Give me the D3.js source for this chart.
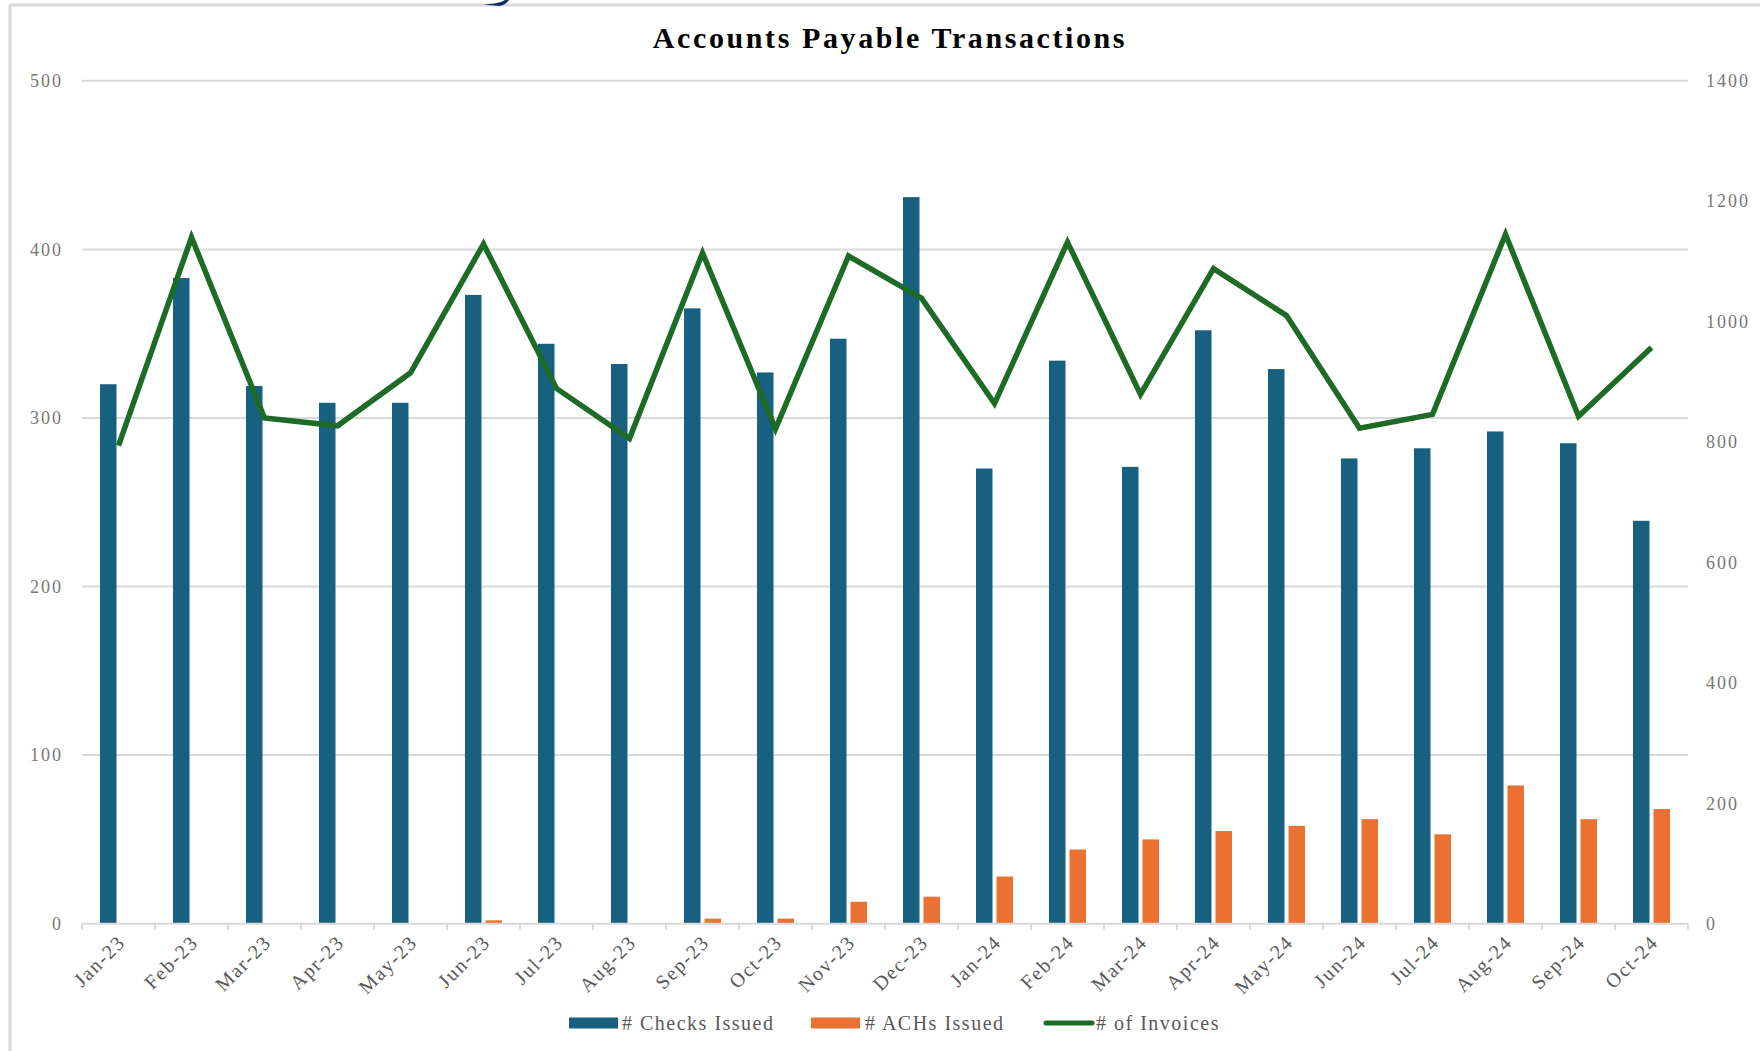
<!DOCTYPE html>
<html>
<head>
<meta charset="utf-8">
<script src="https://cdn.jsdelivr.net/npm/d3@7"></script>
<style>
  html, body { margin: 0; padding: 0; background: #fff; }
  svg { display: block; }
  svg text { font-family: "Liberation Serif", "DejaVu Serif", serif !important; }
</style>
</head>
<body>
<svg id="chart" width="1760" height="1051"></svg>
<script>
// Monthly accounts payable activity
const months = ["Jan-23","Feb-23","Mar-23","Apr-23","May-23","Jun-23","Jul-23","Aug-23","Sep-23","Oct-23","Nov-23","Dec-23",
                "Jan-24","Feb-24","Mar-24","Apr-24","May-24","Jun-24","Jul-24","Aug-24","Sep-24","Oct-24"];
const checksIssued = [320,383,319,309,309,373,344,332,365,327,347,431,270,334,271,352,329,276,282,292,285,239];
const achsIssued   = [0,0,0,0,0,2,0,0,3,3,13,16,28,44,50,55,58,62,53,82,62,68];
const invoices     = [794,1140,840,827,915,1129,889,806,1114,822,1109,1039,864,1132,879,1088,1010,823,846,1145,843,957];
const leftTicks  = [0,100,200,300,400,500];
const rightTicks = [0,200,400,600,800,1000,1200,1400];

const seriesNames = ["# Checks Issued", "# ACHs Issued", "# of Invoices"];
const colors = { checks: "#17607f", achs: "#ea7131", invoices: "#1d6b26" };

const svg = d3.select("#chart");
const W = 1760, H = 1051;
const plot = { left: 82, right: 1688, top: 80.8, bottom: 923.7 };

// Outer frame (top and left edges visible)
svg.append("line").attr("x1", 10).attr("y1", 5).attr("x2", W).attr("y2", 5)
  .attr("stroke", "#d9d9d9").attr("stroke-width", 3);
svg.append("line").attr("x1", 10).attr("y1", 5).attr("x2", 10).attr("y2", H)
  .attr("stroke", "#d9d9d9").attr("stroke-width", 3);
// Small fragment of the header logo peeking over the frame
svg.append("path").attr("d", "M483,4.5 C492,4 501,3 505,0 L509,0 C507,3 504,5 500,6 Z")
  .attr("fill", "#10296b");

const x = d3.scaleBand().domain(months).range([plot.left, plot.right]).padding(0);
const yL = d3.scaleLinear().domain([0, 500]).range([plot.bottom, plot.top]);
const yR = d3.scaleLinear().domain([0, 1400]).range([plot.bottom, plot.top]);

// Title
svg.append("text")
  .attr("x", 890).attr("y", 48)
  .attr("text-anchor", "middle")
  .attr("font-size", 30).attr("font-weight", "bold")
  .attr("letter-spacing", 2.6)
  .attr("fill", "#000")
  .text("Accounts Payable Transactions");

// Horizontal gridlines from the left axis
svg.append("g").selectAll("line").data(leftTicks.filter(d => d > 0)).join("line")
  .attr("x1", plot.left).attr("x2", plot.right)
  .attr("y1", d => yL(d)).attr("y2", d => yL(d))
  .attr("stroke", "#d9d9d9").attr("stroke-width", 2);

// Left axis labels
const axisLeft = d3.axisLeft(yL).tickValues(leftTicks).tickSize(0).tickPadding(0).tickFormat(d3.format("d"));
const gL = svg.append("g").attr("transform", "translate(63,0)").call(axisLeft);
gL.select(".domain").remove();
gL.selectAll("text").attr("font-size", 18).attr("letter-spacing", 2)
  .attr("fill", "#777").attr("x", 0);

// Right axis labels
const axisRight = d3.axisRight(yR).tickValues(rightTicks).tickSize(0).tickPadding(0).tickFormat(d3.format("d"));
const gR = svg.append("g").attr("transform", "translate(1706,0)").call(axisRight);
gR.select(".domain").remove();
gR.selectAll("text").attr("font-size", 18).attr("letter-spacing", 2)
  .attr("fill", "#777").attr("x", 0);

// Bars
const barW = 16.5, gap = 2;
svg.append("g").selectAll("rect").data(months).join("rect")
  .attr("x", (d) => x(d) + x.bandwidth() / 2 - gap - barW)
  .attr("width", barW)
  .attr("y", (d, i) => yL(checksIssued[i]))
  .attr("height", (d, i) => yL(0) - yL(checksIssued[i]))
  .attr("fill", colors.checks);

svg.append("g").selectAll("rect").data(months).join("rect")
  .attr("x", (d) => x(d) + x.bandwidth() / 2 + gap)
  .attr("width", barW)
  .attr("y", (d, i) => yL(achsIssued[i]))
  .attr("height", (d, i) => yL(0) - yL(achsIssued[i]))
  .attr("fill", colors.achs);

// Bottom axis line with tick marks at category boundaries
svg.append("line").attr("x1", plot.left).attr("x2", plot.right)
  .attr("y1", plot.bottom).attr("y2", plot.bottom)
  .attr("stroke", "#d9d9d9").attr("stroke-width", 2);
const bounds = months.map(m => x(m)).concat([plot.right]);
svg.append("g").selectAll("line").data(bounds).join("line")
  .attr("x1", d => d).attr("x2", d => d)
  .attr("y1", plot.bottom).attr("y2", plot.bottom + 6)
  .attr("stroke", "#d9d9d9").attr("stroke-width", 2);

svg.append("g").selectAll("text").data(months).join("text")
  .attr("transform", d => `translate(${x(d) + x.bandwidth() / 2 - 2},${plot.bottom + 10}) rotate(-45)`)
  .attr("text-anchor", "end")
  .attr("dy", "0.7em")
  .attr("font-size", 20).attr("letter-spacing", 1.6)
  .attr("fill", "#595959")
  .text(d => d);

// Invoice line on the secondary axis
const line = d3.line()
  .x((d, i) => x(months[i]) + x.bandwidth() / 2)
  .y(d => yR(d));
svg.append("path").datum(invoices)
  .attr("d", line)
  .attr("fill", "none")
  .attr("stroke", colors.invoices)
  .attr("stroke-width", 5.5)
  .attr("stroke-linejoin", "miter");

// Legend
const legY = 1023;
const leg = svg.append("g");
leg.append("rect").attr("x", 569).attr("y", legY - 5.5).attr("width", 49).attr("height", 11).attr("fill", colors.checks);
leg.append("text").attr("x", 622).attr("y", legY).attr("dy", "0.35em")
  .attr("font-size", 20).attr("letter-spacing", 1.5).attr("fill", "#595959").text(seriesNames[0]);
leg.append("rect").attr("x", 811).attr("y", legY - 5.5).attr("width", 49).attr("height", 11).attr("fill", colors.achs);
leg.append("text").attr("x", 865).attr("y", legY).attr("dy", "0.35em")
  .attr("font-size", 20).attr("letter-spacing", 1.5).attr("fill", "#595959").text(seriesNames[1]);
leg.append("line").attr("x1", 1046).attr("x2", 1092).attr("y1", legY).attr("y2", legY)
  .attr("stroke", colors.invoices).attr("stroke-width", 5).attr("stroke-linecap", "round");
leg.append("text").attr("x", 1096).attr("y", legY).attr("dy", "0.35em")
  .attr("font-size", 20).attr("letter-spacing", 1.5).attr("fill", "#595959").text(seriesNames[2]);
</script>
</body>
</html>
